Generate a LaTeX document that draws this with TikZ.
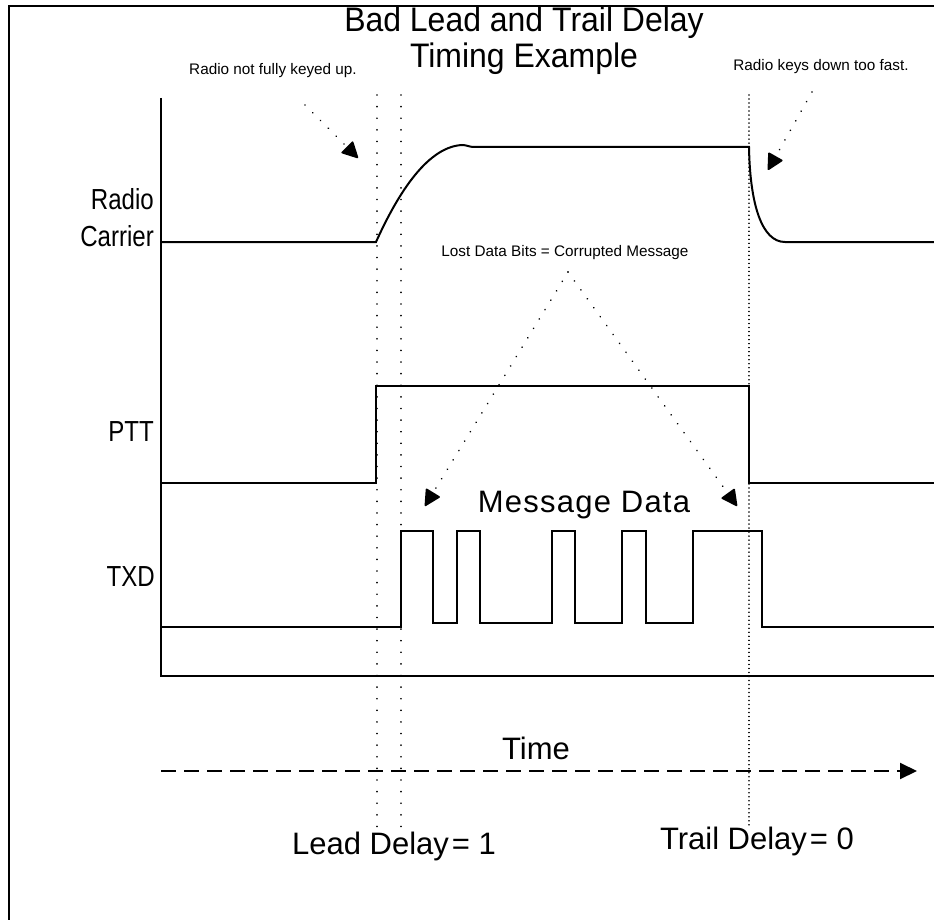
\documentclass[tikz,border=0pt]{standalone}
\usepackage{fontspec}
\setmainfont{Liberation Sans}
\newfontfamily\narrowsans[FakeStretch=0.83]{Liberation Sans}
\newfontfamily\titlesans[FakeStretch=0.94]{Liberation Sans}
\newfontfamily\spacedsans[LetterSpace=4]{Liberation Sans}
\usetikzlibrary{arrows.meta}

\begin{document}
\begin{tikzpicture}[x=1pt,y=-1pt,
  frame/.style={line width=2pt},
  sig/.style={line width=2pt, line join=miter},
  guide/.style={line width=1.8pt, line cap=round, dash pattern=on 0.01pt off 11.6pt},
  guidefine/.style={line width=1.6pt, line cap=round, dash pattern=on 0.01pt off 4pt},
  note/.style={line width=1.8pt, line cap=round, dash pattern=on 0.01pt off 11pt,
    -{Triangle[length=17pt,width=17pt,round=false]}},
  timeaxis/.style={line width=2pt, dash pattern=on 15pt off 8pt,
    -{Triangle[length=17pt,width=16pt]}},
  title/.style={inner sep=0pt, align=center, font=\titlesans\fontsize{34pt}{36pt}\selectfont},
  lab/.style={inner sep=0pt, font=\narrowsans\fontsize{29pt}{37pt}\selectfont},
  delaylab/.style={inner sep=0pt, font=\fontsize{31pt}{37pt}\selectfont},
  msglab/.style={inner sep=0pt, font=\spacedsans\fontsize{31pt}{36pt}\selectfont},
  small/.style={inner sep=0pt, font=\fontsize{15.3pt}{18pt}\selectfont}
]
\useasboundingbox (0,0) rectangle (934,920);

% frame edges
\draw[frame] (9,920) -- (9,6) -- (934,6);

% title
\node[title] (ttl) at (524,41) {Bad Lead and Trail Delay\\Timing Example};

% axes
\draw[sig] (161,98) -- (161,676) -- (934,676);

% signal labels
\node[lab, align=right, anchor=east] (rc) at (154,218) {Radio\\Carrier};
\node[lab, anchor=east] (ptt) at (154,432) {PTT};
\node[lab, anchor=east] (txd) at (155,577) {TXD};

% delay guides
\draw[guide] (377,95) -- (377,838);
\draw[guide] (401,95) -- (401,838);
\draw[guidefine] (749,95) -- (749,826);

% radio carrier
\draw[sig] (161,242) -- (376,242)
  .. controls (395,200) and (425,147) .. (462,145)
  .. controls (467,145) and (469,147) .. (474,147)
  -- (749,147)
  .. controls (750,205) and (762,242) .. (785,242) -- (934,242);

% push to talk
\draw[sig] (161,483) -- (376,483) -- (376,386) -- (749,386) -- (749,483) -- (934,483);

% transmitted data
\draw[sig] (161,627) -- (401,627) -- (401,531) -- (433,531) -- (433,623)
  -- (457,623) -- (457,531) -- (480,531) -- (480,623)
  -- (552,623) -- (552,531) -- (575,531) -- (575,623)
  -- (622,623) -- (622,531) -- (646,531) -- (646,623)
  -- (693,623) -- (693,531) -- (762,531) -- (762,627) -- (934,627);

% annotations
\node[small] (keyup) at (273,71) {Radio not fully keyed up.};
\node[small] (keydown) at (821,67) {Radio keys down too fast.};
\node[small] (lost) at (565,253) {Lost Data Bits = Corrupted Message};
\node[msglab] (msg) at (584,505) {Message Data};

\coordinate (kuA) at (305,105);
\coordinate (kuB) at (358,158);
\coordinate (kdA) at (812,92);
\coordinate (kdB) at (768,170);
\coordinate (lsA) at (568,272);
\coordinate (lsL) at (425,506);
\coordinate (lsR) at (737,506);
\draw[note] (kuA) -- (kuB);
\draw[note] (kdA) -- (kdB);
\draw[note] (lsA) -- (lsL);
\draw[note] (lsA) -- (lsR);

% time axis
\coordinate (t0) at (161,771);
\coordinate (t1) at (917,771);
\draw[timeaxis] (t0) -- (t1);
\node[delaylab] (time) at (536,748) {Time};

% delay values
\node[delaylab] (lead) at (394,846) {Lead Delay\kern3pt= 1};
\node[delaylab] (trail) at (757,841) {Trail Delay\kern3pt= 0};
\end{tikzpicture}
\end{document}
